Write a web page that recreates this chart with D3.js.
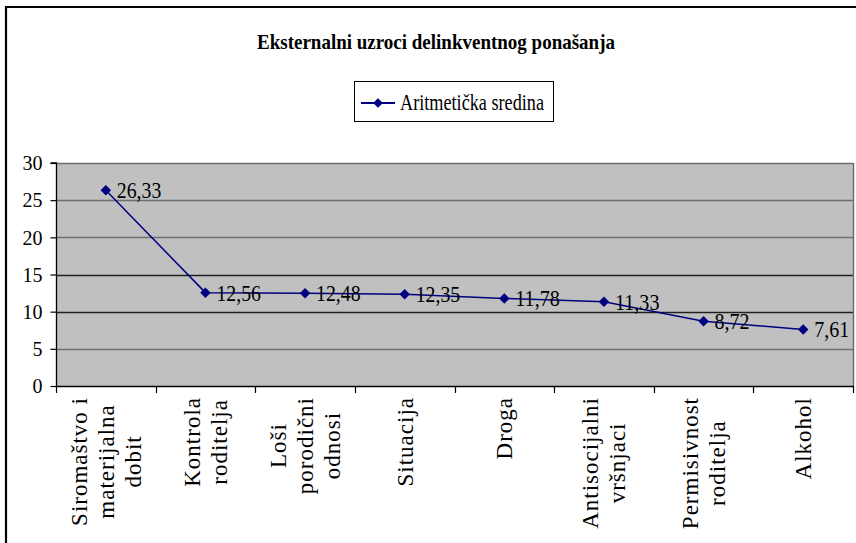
<!DOCTYPE html>
<html>
<head>
<meta charset="utf-8">
<script src="https://cdn.jsdelivr.net/npm/d3@7"></script>
<style>
  html, body { margin: 0; padding: 0; background: #fff; }
  svg { display: block; }
</style>
</head>
<body>
<svg id="chart" width="856" height="543"></svg>
<script>
const titleText = "Eksternalni uzroci delinkventnog ponašanja";
const seriesName = "Aritmetička sredina";
const categories = [
  ["Siromaštvo i", "materijalna", "dobit"],
  ["Kontrola", "roditelja"],
  ["Loši", "porodični", "odnosi"],
  ["Situacija"],
  ["Droga"],
  ["Antisocijalni", "vršnjaci"],
  ["Permisivnost", "roditelja"],
  ["Alkohol"]
];
const values = [26.33, 12.56, 12.48, 12.35, 11.78, 11.33, 8.72, 7.61];
const valueLabels = ["26,33", "12,56", "12,48", "12,35", "11,78", "11,33", "8,72", "7,61"];
const yTicks = [0, 5, 10, 15, 20, 25, 30];

const FONT = "Liberation Serif";
const svg = d3.select("#chart");
const plot = { left: 56, right: 853, top: 163, bottom: 386 };

function fitWidth(sel, target) {
  sel.attr("textLength", target).attr("lengthAdjust", "spacingAndGlyphs");
}

// outer frame (top and left edges visible)
svg.append("path")
  .attr("d", `M6,543 V7 H856`)
  .attr("fill", "none").attr("stroke", "#000").attr("stroke-width", 2.2);

// title
fitWidth(svg.append("text")
  .attr("x", 257).attr("y", 49)
  .attr("font-family", FONT)
  .attr("font-size", 21).attr("font-weight", "bold")
  .text(titleText), 358);

// legend
const lg = svg.append("g");
lg.append("rect").attr("x", 354.5).attr("y", 81.5).attr("width", 199).attr("height", 40)
  .attr("fill", "#fff").attr("stroke", "#000").attr("stroke-width", 1);
lg.append("line").attr("x1", 361).attr("x2", 395).attr("y1", 103).attr("y2", 103)
  .attr("stroke", "#000080").attr("stroke-width", 2);
lg.append("path").attr("d", d3.symbol(d3.symbolDiamond2, 60)())
  .attr("transform", "translate(378,103)").attr("fill", "#000080");
fitWidth(lg.append("text").attr("x", 400).attr("y", 110)
  .attr("font-family", FONT).attr("font-size", 23)
  .text(seriesName), 144);

// scales
const x = d3.scaleBand().domain(d3.range(categories.length))
  .range([plot.left, plot.right]).padding(0);
const y = d3.scaleLinear().domain([0, 30]).range([plot.bottom, plot.top]);

// plot background
svg.append("rect").attr("x", plot.left).attr("y", plot.top)
  .attr("width", plot.right - plot.left).attr("height", plot.bottom - plot.top)
  .attr("fill", "#c0c0c0");

// gridlines
svg.append("g").selectAll("line").data(yTicks.filter(d => d > 0)).join("line")
  .attr("x1", plot.left).attr("x2", plot.right)
  .attr("y1", d => Math.round(y(d)) + 0.5).attr("y2", d => Math.round(y(d)) + 0.5)
  .attr("stroke", d => (d === 15 || d === 10) ? "#202020" : "#6e6e6e").attr("stroke-width", 1.3);

// right plot border
svg.append("line").attr("x1", plot.right + 0.5).attr("x2", plot.right + 0.5)
  .attr("y1", plot.top).attr("y2", plot.bottom)
  .attr("stroke", "#6e6e6e").attr("stroke-width", 1.5);

// y axis
const yAxis = svg.append("g").attr("transform", `translate(${plot.left + 0.5},0)`)
  .call(d3.axisLeft(y).tickValues(yTicks).tickSize(6).tickPadding(8).tickFormat(d3.format("d")));
yAxis.attr("font-family", FONT);
yAxis.select(".domain").attr("stroke", "#000").attr("stroke-width", 1.3).attr("d", `M-6,${plot.top}H0V${plot.bottom}`);
yAxis.selectAll(".tick line").attr("stroke", "#000").attr("stroke-width", 1.2);
yAxis.selectAll(".tick text").attr("font-family", FONT).attr("font-size", 20).attr("fill", "#000").attr("dy", "0.34em");

// x axis line and ticks at category boundaries
const bounds = d3.range(categories.length + 1).map(i => plot.left + i * x.bandwidth());
svg.append("line").attr("x1", plot.left).attr("x2", plot.right + 1)
  .attr("y1", plot.bottom + 0.5).attr("y2", plot.bottom + 0.5)
  .attr("stroke", "#000").attr("stroke-width", 1.3);
svg.append("g").selectAll("line").data(bounds).join("line")
  .attr("x1", d => Math.round(d) + 0.5).attr("x2", d => Math.round(d) + 0.5)
  .attr("y1", plot.bottom).attr("y2", plot.bottom + 7)
  .attr("stroke", "#000").attr("stroke-width", 1.2);

// x category labels (rotated, multi-line, centered lines, top-anchored)
const lineH = 27;
const fontX = 23;
categories.forEach((lines, i) => {
  const cx = x(i) + x.bandwidth() / 2;
  const g = svg.append("g");
  const texts = lines.map(t => g.append("text")
    .attr("font-family", FONT).attr("font-size", fontX)
    .attr("letter-spacing", 1)
    .attr("text-anchor", "middle").text(t));
  const maxW = d3.max(texts, t => t.node().getComputedTextLength());
  const n = lines.length;
  texts.forEach((t, k) => {
    const off = (k - (n - 1) / 2) * lineH;
    const px = cx + off + 8;
    const py = 397 + maxW / 2;
    t.attr("transform", `translate(${px},${py}) rotate(-90)`).attr("x", 0).attr("y", 0);
  });
});

// line
const line = d3.line().x((d, i) => x(i) + x.bandwidth() / 2).y(d => y(d));
svg.append("path").datum(values).attr("d", line)
  .attr("fill", "none").attr("stroke", "#000080").attr("stroke-width", 1.5);

// markers
svg.append("g").selectAll("path").data(values).join("path")
  .attr("d", d3.symbol(d3.symbolDiamond2, 70)())
  .attr("transform", (d, i) => `translate(${x(i) + x.bandwidth() / 2},${y(d)})`)
  .attr("fill", "#000080");

// data labels
svg.append("g").selectAll("text").data(values).join("text")
  .attr("transform", (d, i) => `translate(${x(i) + x.bandwidth() / 2 + 11},${y(d) + 8})`)
  .attr("font-family", FONT).attr("font-size", 24).attr("fill", "#000")
  .text((d, i) => valueLabels[i])
  .each(function(d, i) { fitWidth(d3.select(this), valueLabels[i].length * 9.5 - 3); });
</script>
</body>
</html>
